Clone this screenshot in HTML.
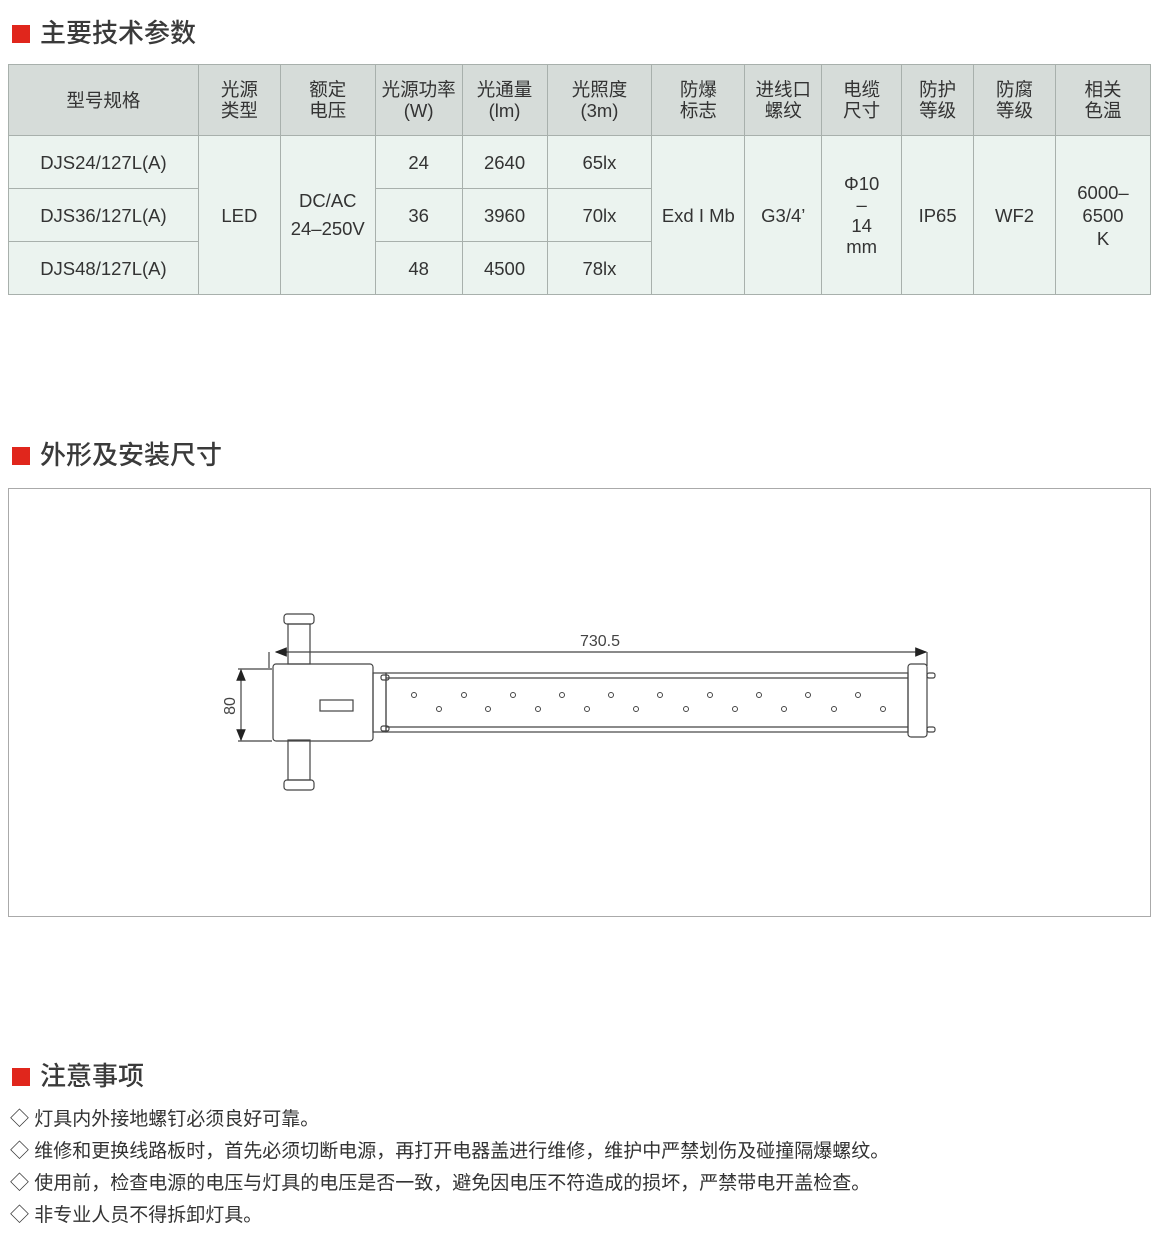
<!DOCTYPE html>
<html><head><meta charset="utf-8"><style>
body{margin:0;width:1160px;height:1244px;background:#fff;position:relative;font-family:"Liberation Sans","Noto Sans CJK SC",sans-serif;color:#333;overflow:hidden}
.h{position:absolute;left:12px;font-size:26px;color:#3a3a3a;line-height:30px;font-weight:500}
.h:before{content:"";display:inline-block;width:18px;height:18px;background:#e0261c;margin-right:10px;vertical-align:-1px}
table{position:absolute;left:8px;top:64px;border-collapse:collapse;width:1143px;font-size:18.5px;color:#333}
td{border:1px solid #a8b0ac;text-align:center;background:#ebf3ef;padding:0;line-height:21px}
tr.hd td{background:#d6dcd9;height:70px}
tr.r td{height:52px}
.n{position:absolute;left:10px;font-size:19px;color:#333}
</style></head><body>
<div class="h" style="top:18px">主要技术参数</div>
<table>
<colgroup><col style="width:190px"><col style="width:82px"><col style="width:95px"><col style="width:87px"><col style="width:85px"><col style="width:105px"><col style="width:93px"><col style="width:77px"><col style="width:80px"><col style="width:72px"><col style="width:82px"><col style="width:95px"></colgroup>
<tr class="hd"><td>型号规格</td><td>光源<br>类型</td><td>额定<br>电压</td><td>光源功率<br>(W)</td><td>光通量<br>(lm)</td><td>光照度<br>(3m)</td><td>防爆<br>标志</td><td>进线口<br>螺纹</td><td>电缆<br>尺寸</td><td>防护<br>等级</td><td>防腐<br>等级</td><td>相关<br>色温</td></tr>
<tr class="r"><td>DJS24/127L(A)</td><td rowspan="3">LED</td><td rowspan="3" style="line-height:28px">DC/AC<br>24–250V</td><td>24</td><td>2640</td><td>65lx</td><td rowspan="3">Exd I Mb</td><td rowspan="3">G3/4’</td><td rowspan="3">Φ10<br>–<br>14<br>mm</td><td rowspan="3">IP65</td><td rowspan="3">WF2</td><td rowspan="3" style="line-height:23px">6000–<br>6500<br>K</td></tr>
<tr class="r"><td>DJS36/127L(A)</td><td>36</td><td>3960</td><td>70lx</td></tr>
<tr class="r"><td>DJS48/127L(A)</td><td>48</td><td>4500</td><td>78lx</td></tr>
</table>
<div class="h" style="top:440px">外形及安装尺寸</div>
<div style="position:absolute;left:8px;top:488px;width:1141px;height:427px;border:1px solid #aaa"></div>
<svg style="position:absolute;left:0;top:0" width="1160" height="1244" fill="none" stroke="#444" stroke-width="1.2">
<defs><marker id="a" markerWidth="10" markerHeight="8" refX="9" refY="4" orient="auto"><path d="M0,0L10,4L0,8z" fill="#222" stroke="none"/></marker></defs>
<rect x="284" y="614" width="30" height="10" rx="3"/><rect x="288" y="624" width="22" height="40"/>
<rect x="284" y="780" width="30" height="10" rx="3"/><rect x="288" y="740" width="22" height="40"/>
<rect x="273" y="664" width="100" height="77" rx="3"/>
<rect x="320" y="700" width="33" height="11"/>
<rect x="373" y="673" width="13" height="59"/>
<rect x="386" y="673" width="522" height="59"/>
<line x1="386" y1="678" x2="908" y2="678"/><line x1="386" y1="727" x2="908" y2="727"/>
<rect x="908" y="664" width="19" height="73" rx="3"/>
<rect x="927" y="673" width="8" height="5" rx="2"/><rect x="927" y="727" width="8" height="5" rx="2"/>
<rect x="381" y="675" width="8" height="5" rx="2"/><rect x="381" y="726" width="8" height="5" rx="2"/>
<g stroke-width="1">
<circle cx="414" cy="695" r="2.5"/><circle cx="464" cy="695" r="2.5"/><circle cx="513" cy="695" r="2.5"/><circle cx="562" cy="695" r="2.5"/><circle cx="611" cy="695" r="2.5"/><circle cx="660" cy="695" r="2.5"/><circle cx="710" cy="695" r="2.5"/><circle cx="759" cy="695" r="2.5"/><circle cx="808" cy="695" r="2.5"/><circle cx="858" cy="695" r="2.5"/>
<circle cx="439" cy="709" r="2.5"/><circle cx="488" cy="709" r="2.5"/><circle cx="538" cy="709" r="2.5"/><circle cx="587" cy="709" r="2.5"/><circle cx="636" cy="709" r="2.5"/><circle cx="686" cy="709" r="2.5"/><circle cx="735" cy="709" r="2.5"/><circle cx="784" cy="709" r="2.5"/><circle cx="834" cy="709" r="2.5"/><circle cx="883" cy="709" r="2.5"/>
</g>
<line x1="500" y1="652" x2="276" y2="652" marker-end="url(#a)"/><line x1="500" y1="652" x2="926" y2="652" marker-end="url(#a)"/>
<line x1="269" y1="652" x2="269" y2="668"/><line x1="927" y1="652" x2="927" y2="666"/>
<line x1="238" y1="669" x2="272" y2="669"/><line x1="238" y1="741" x2="272" y2="741"/>
<line x1="241" y1="705" x2="241" y2="670" marker-end="url(#a)"/><line x1="241" y1="705" x2="241" y2="740" marker-end="url(#a)"/>
<text x="600" y="646" fill="#444" stroke="none" font-size="16" text-anchor="middle" font-family="Liberation Sans">730.5</text>
<text x="0" y="0" fill="#444" stroke="none" font-size="16" text-anchor="middle" font-family="Liberation Sans" transform="translate(235,706) rotate(-90)">80</text>
</svg>
<div class="h" style="top:1061px">注意事项</div>
<div class="n" style="top:1104px">◇ 灯具内外接地螺钉必须良好可靠。</div>
<div class="n" style="top:1136px">◇ 维修和更换线路板时，首先必须切断电源，再打开电器盖进行维修，维护中严禁划伤及碰撞隔爆螺纹。</div>
<div class="n" style="top:1168px">◇ 使用前，检查电源的电压与灯具的电压是否一致，避免因电压不符造成的损坏，严禁带电开盖检查。</div>
<div class="n" style="top:1200px">◇ 非专业人员不得拆卸灯具。</div>
</body></html>
